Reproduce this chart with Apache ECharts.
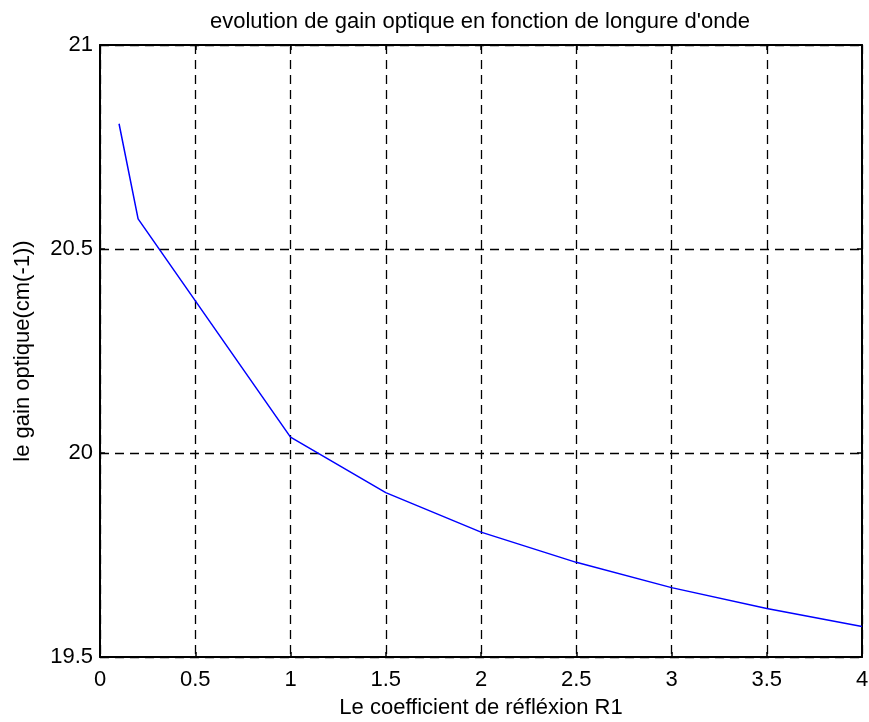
<!DOCTYPE html>
<html><head><meta charset="utf-8">
<script src="https://cdn.jsdelivr.net/npm/echarts@6/dist/echarts.min.js"></script>
<style>html,body{margin:0;padding:0;background:#fff}#c{width:869px;height:722px}</style>
</head><body><div id="c"></div>
<script>
const xValues = [0.1, 0.2, 1, 1.5, 2, 2.5, 3, 3.5, 4];
const gainValues = [20.807, 20.574, 20.039, 19.903, 19.806, 19.732, 19.670, 19.619, 19.575];
const titleText = "evolution de gain optique en fonction de longure d'onde";
const xName = "Le coefficient de réfléxion R1";
const yName = "le gain optique(cm(-1))";

const FONT = 'Liberation Sans, Arial, sans-serif';
const FS = 22;
const chart = echarts.init(document.getElementById('c'), null, {renderer: 'canvas'});
const grid = {left: 100, right: 7, top: 45, bottom: 65, containLabel: false, outerBoundsMode: 'none'};
const tickStyle = {show: true, inside: true, length: 5, lineStyle: {color: '#000', width: 1.5}};
const gridLine = {show: true, lineStyle: {color: '#000', type: [9, 6], width: 1.3}};
chart.setOption({
  animation: false,
  backgroundColor: '#fff',
  title: {text: titleText, left: 205, top: 6,
    textStyle: {fontFamily: FONT, fontSize: FS, fontWeight: 'normal', color: '#000'}},
  grid: grid,
  xAxis: [{
    type: 'value', min: 0, max: 4, interval: 0.5, position: 'bottom',
    name: xName, nameLocation: 'middle', nameGap: 40,
    nameTextStyle: {fontFamily: FONT, fontSize: FS, color: '#000'},
    axisLine: {show: true, onZero: false, lineStyle: {color: '#000', width: 2}},
    axisTick: tickStyle,
    axisLabel: {fontFamily: FONT, fontSize: FS, color: '#000', margin: 12},
    splitLine: gridLine
  }, {
    type: 'value', min: 0, max: 4, interval: 0.5, position: 'top',
    axisLine: {show: true, onZero: false, lineStyle: {color: '#000', width: 2}},
    axisTick: tickStyle, axisLabel: {show: false}, splitLine: {show: false}
  }],
  yAxis: [{
    type: 'value', min: 19.5, max: 21, interval: 0.5, position: 'left',
    name: yName, nameLocation: 'middle', nameGap: 66,
    nameTextStyle: {fontFamily: FONT, fontSize: FS, color: '#000'},
    axisLine: {show: true, onZero: false, lineStyle: {color: '#000', width: 2}},
    axisTick: tickStyle,
    axisLabel: {fontFamily: FONT, fontSize: FS, color: '#000', margin: 7},
    splitLine: gridLine
  }, {
    type: 'value', min: 19.5, max: 21, interval: 0.5, position: 'right',
    axisLine: {show: true, onZero: false, lineStyle: {color: '#000', width: 2}},
    axisTick: tickStyle, axisLabel: {show: false}, splitLine: {show: false}
  }],
  series: [{
    type: 'line', xAxisIndex: 0, yAxisIndex: 0,
    data: xValues.map((x, i) => [x, gainValues[i]]),
    showSymbol: false, symbol: 'none',
    lineStyle: {color: '#0000ff', width: 1.5}
  }]
});
</script></body></html>
